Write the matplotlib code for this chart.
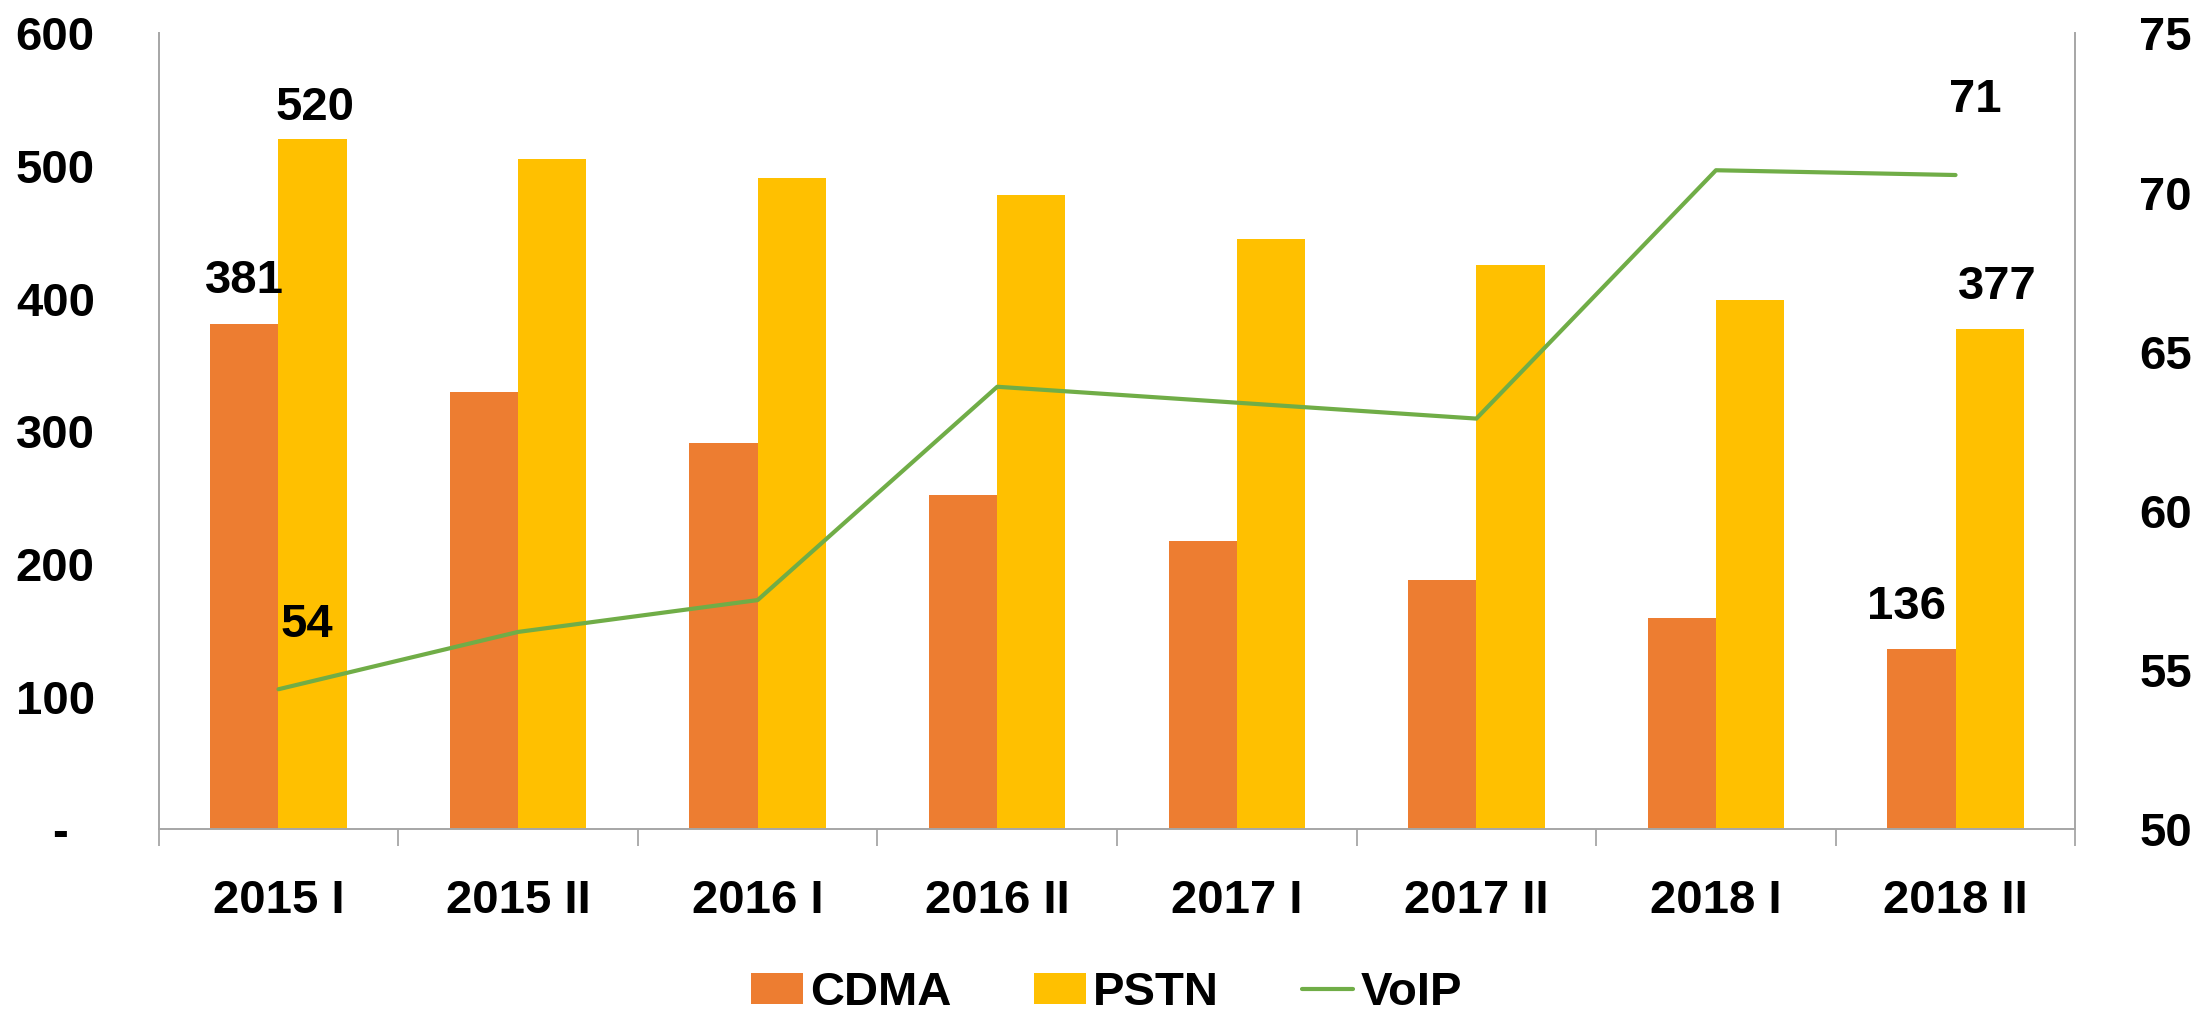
import matplotlib
matplotlib.use("Agg")
import matplotlib.pyplot as plt
from matplotlib.ticker import FixedLocator, NullFormatter
import numpy as np

plt.rcParams['font.family'] = ['Liberation Sans', 'DejaVu Sans']
plt.rcParams['font.weight'] = 'bold'

categories = ["2015 I", "2015 II", "2016 I", "2016 II", "2017 I", "2017 II", "2018 I", "2018 II"]
cdma = [381, 330, 291, 252, 217, 188, 159, 136]
pstn = [520, 505, 491, 478, 445, 425, 399, 377]
voip = [54.4, 56.2, 57.2, 63.9, 63.4, 62.9, 70.7, 70.55]
left_ticks = [0, 100, 200, 300, 400, 500, 600]
left_tick_labels = ["-  ", "100", "200", "300", "400", "500", "600"]
right_ticks = [50, 55, 60, 65, 70, 75]

C_CDMA = "#ED7D31"
C_PSTN = "#FFC000"
C_VOIP = "#70AD47"
SPINE = "#A6A6A6"
FS = 34

fig = plt.figure(figsize=(22.01, 10.13), dpi=100)
ax = fig.add_axes([0.0721, 0.1813, 0.8708, 0.7858])
ax2 = ax.twinx()

x = np.arange(len(categories))
w = 0.285
b1 = ax.bar(x - w / 2, cdma, w, color=C_CDMA, label="CDMA", zorder=2)
b2 = ax.bar(x + w / 2, pstn, w, color=C_PSTN, label="PSTN", zorder=2)
ln, = ax2.plot(x, voip, color=C_VOIP, lw=3.0, solid_capstyle='round', label="VoIP", zorder=3)

ax.set_xlim(-0.5, len(categories) - 0.5)
ax.set_ylim(0, 600)
ax2.set_ylim(50, 75)

# x ticks: marks at category boundaries, labels at centers
ax.xaxis.set_major_locator(FixedLocator(np.arange(-0.5, len(categories), 1.0)))
ax.xaxis.set_major_formatter(NullFormatter())
ax.xaxis.set_minor_locator(FixedLocator(x))
ax.set_xticklabels(categories, minor=True)
ax.tick_params(axis='x', which='major', length=12, width=1.3, color=SPINE, direction='out')
ax.tick_params(axis='x', which='minor', length=0, pad=36, labelsize=FS)

ax.set_yticks(left_ticks)
ax.set_yticklabels(left_tick_labels)
ax.tick_params(axis='y', length=0, pad=46, labelsize=FS)
ax2.set_yticks(right_ticks)
ax2.tick_params(axis='y', length=0, pad=46, labelsize=FS)

for a in (ax, ax2):
    a.spines['top'].set_visible(False)
    for s in ('left', 'right', 'bottom'):
        a.spines[s].set_color(SPINE)
        a.spines[s].set_linewidth(1.4)
ax2.spines['bottom'].set_visible(False)
ax2.spines['left'].set_visible(False)
ax.spines['right'].set_visible(False)

# data labels
def lab(axis, xv, yv, txt, dx, dy):
    axis.annotate(txt, (xv, yv), xytext=(dx, dy), textcoords='offset points',
                  ha='center', va='center', fontsize=FS, fontweight='bold', color='black')

lab(ax, x[0] - w / 2, cdma[0], f"{cdma[0]}", 0, 30.6)
lab(ax, x[0] + w / 2, pstn[0], f"{pstn[0]}", 2, 22.9)
lab(ax, x[-1] - w / 2, cdma[-1], f"{cdma[-1]}", -11, 30.5)
lab(ax, x[-1] + w / 2, pstn[-1], f"{pstn[-1]}", 5.3, 30.5)
lab(ax2, x[0], voip[0], f"{voip[0]:.0f}", 20.6, 46.4)
lab(ax2, x[-1], voip[-1], f"{voip[-1]:.0f}", 14.4, 53.8)

leg = fig.legend(handles=[b1, b2, ln], labels=["CDMA", "PSTN", "VoIP"],
                 loc='center', bbox_to_anchor=(1106.5 / 2201, 1 - 993 / 1013), ncol=3,
                 frameon=False, fontsize=FS, handlelength=1.1, handleheight=0.64,
                 handletextpad=0.15, columnspacing=1.75, borderaxespad=0, borderpad=0)

fig.savefig("out.png", dpi=100)
